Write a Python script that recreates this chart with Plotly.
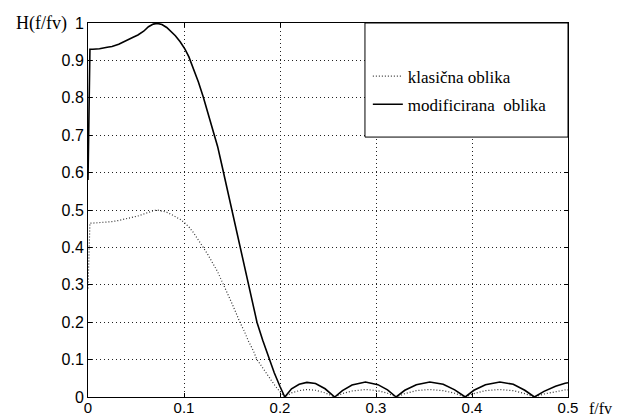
import plotly.graph_objects as go

# frequency axis f/fv
f = [0.0, 0.002, 0.005, 0.012, 0.02, 0.025, 0.032, 0.04, 0.047, 0.052, 0.058, 0.063,
     0.068, 0.072, 0.077, 0.082, 0.087, 0.091, 0.096, 0.101, 0.105, 0.110, 0.115, 0.120,
     0.125, 0.131, 0.135, 0.139, 0.145, 0.150, 0.155, 0.158, 0.163, 0.167, 0.172, 0.176,
     0.182, 0.188, 0.194, 0.200, 0.205,
     0.212, 0.220, 0.228, 0.237, 0.247, 0.257,
     0.265, 0.275, 0.289, 0.302, 0.312, 0.321,
     0.330, 0.342, 0.356, 0.370, 0.382, 0.393,
     0.402, 0.414, 0.429, 0.443, 0.455, 0.465,
     0.475, 0.487, 0.497, 0.500]

# modificirana oblika (solid)
h_mod = [0.58, 0.93, 0.93, 0.931, 0.935, 0.937, 0.943, 0.952, 0.962, 0.968, 0.978, 0.990,
         0.997, 0.999, 0.996, 0.988, 0.976, 0.966, 0.950, 0.930, 0.910, 0.878, 0.842, 0.803,
         0.760, 0.709, 0.670, 0.625, 0.556, 0.500, 0.440, 0.402, 0.345, 0.300, 0.243, 0.200,
         0.152, 0.108, 0.065, 0.028, 0.0,
         0.022, 0.034, 0.039, 0.036, 0.022, 0.0,
         0.017, 0.032, 0.040, 0.033, 0.019, 0.0,
         0.018, 0.033, 0.040, 0.034, 0.019, 0.0,
         0.018, 0.033, 0.040, 0.034, 0.018, 0.0,
         0.015, 0.029, 0.037, 0.038]

# klasična oblika (dotted)
h_kla = [0.29, 0.465, 0.465, 0.466, 0.468, 0.469, 0.472, 0.476, 0.481, 0.484, 0.489, 0.495,
         0.498, 0.500, 0.498, 0.494, 0.488, 0.483, 0.475, 0.465, 0.455, 0.439, 0.421, 0.400,
         0.380, 0.354, 0.335, 0.312, 0.280, 0.250, 0.220, 0.201, 0.175, 0.150, 0.125, 0.100,
         0.078, 0.054, 0.033, 0.014, 0.0,
         0.011, 0.017, 0.020, 0.018, 0.011, 0.0,
         0.009, 0.016, 0.020, 0.017, 0.010, 0.0,
         0.009, 0.017, 0.020, 0.017, 0.010, 0.0,
         0.009, 0.017, 0.020, 0.017, 0.009, 0.0,
         0.008, 0.015, 0.019, 0.019]

x_ticks = [0, 0.1, 0.2, 0.3, 0.4, 0.5]
x_tick_text = ["0", "0.1", "0.2", "0.3", "0.4", "0.5"]
y_ticks = [0, 0.1, 0.2, 0.3, 0.4, 0.5, 0.6, 0.7, 0.8, 0.9, 1.0]
y_tick_text = ["0", "0.1", "0.2", "0.3", "0.4", "0.5", "0.6", "0.7", "0.8", "0.9", "1"]

serif = "Liberation Serif"
sans = "Liberation Sans"

fig = go.Figure()
fig.add_trace(go.Scatter(x=f, y=h_kla, mode="lines", name="klasična oblika",
                         legendgroup="a",
                         line=dict(color="#333333", width=1.2, dash="1px,2px")))
fig.add_trace(go.Scatter(x=f, y=h_mod, mode="lines", name="modificirana  oblika",
                         legendgroup="b",
                         line=dict(color="black", width=1.6)))

axis_common = dict(showline=True, linecolor="black", linewidth=1, mirror="ticks",
                   ticks="inside", ticklen=4, tickcolor="black", automargin=False,
                   showgrid=True, gridcolor="#222222", gridwidth=1, griddash="1px,3px",
                   zeroline=False)

fig.update_xaxes(range=[0, 0.5], tickvals=x_ticks, ticktext=x_tick_text,
                 ticklabelstandoff=-3,
                 tickfont=dict(family=sans, size=15, color="black"), **axis_common)
fig.update_yaxes(range=[0, 1], tickvals=y_ticks, ticktext=y_tick_text,
                 tickfont=dict(family=sans, size=16, color="black"), **axis_common)

fig.add_shape(type="rect", xref="paper", yref="paper", x0=0.577, x1=1.0, y0=0.695, y1=1.0,
              line=dict(color="black", width=1), fillcolor="white", layer="above")

fig.add_annotation(text="H(f/fv)", xref="paper", yref="paper", x=-0.04, y=1.0,
                   xanchor="right", yanchor="middle", showarrow=False,
                   font=dict(family=serif, size=18, color="black"))
fig.add_annotation(text="f/fv", xref="paper", yref="paper", x=1.04, y=-0.03,
                   xanchor="left", yanchor="middle", showarrow=False,
                   font=dict(family=serif, size=16, color="black"))

fig.update_layout(
    width=619, height=417,
    margin=dict(l=88, r=51, t=23, b=20),
    paper_bgcolor="white", plot_bgcolor="white",
    showlegend=True,
    legend=dict(x=0.583, y=0.905, xanchor="left", yanchor="top",
                bgcolor="rgba(0,0,0,0)", borderwidth=0,
                font=dict(family=serif, size=17, color="black"),
                traceorder="grouped", tracegroupgap=3),
)

fig.write_html("out.html")
